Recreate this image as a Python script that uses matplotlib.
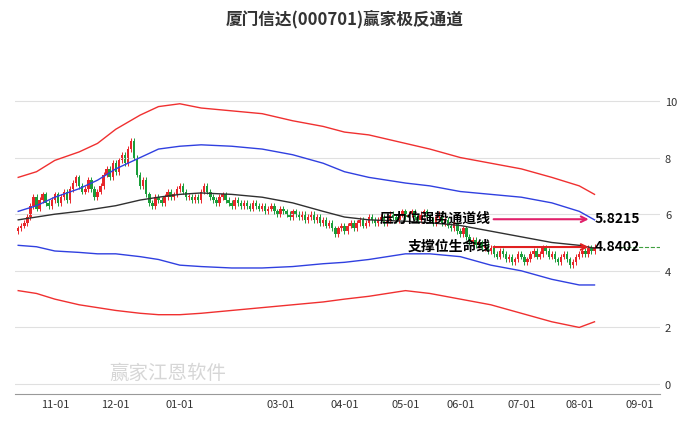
import matplotlib
matplotlib.use('Agg')
import matplotlib.pyplot as plt
import numpy as np
plt.rcParams['font.family'] = ['Noto Sans CJK SC', 'DejaVu Sans']

closes = [5.5,5.6,5.7,5.9,6.3,6.6,6.2,6.5,6.7,6.4,
 6.3,6.5,6.7,6.4,6.6,6.8,6.5,6.9,7.1,7.3,
 7.0,6.8,6.9,7.2,6.9,6.6,6.8,7.0,7.4,7.6,
 7.3,7.8,7.5,7.9,8.1,7.8,8.3,8.6,8.0,7.4,
 7.0,7.2,6.7,6.4,6.3,6.6,6.5,6.4,6.6,6.8,
 6.6,6.7,6.9,7.0,6.8,6.6,6.6,6.5,6.6,6.5,
 6.8,7.0,6.8,6.6,6.5,6.4,6.6,6.7,6.5,6.4,
 6.3,6.5,6.4,6.3,6.4,6.3,6.2,6.4,6.3,6.2,
 6.3,6.1,6.2,6.3,6.1,6.0,6.2,6.1,6.0,5.9,
 6.1,6.0,5.9,6.0,5.8,5.9,6.0,5.8,5.9,5.7,
 5.8,5.6,5.7,5.5,5.3,5.5,5.6,5.4,5.6,5.7,
 5.5,5.7,5.8,5.6,5.7,5.9,5.8,5.7,5.8,5.9,
 5.7,5.8,6.0,5.9,5.8,6.0,6.1,5.9,6.0,6.1,
 5.9,5.8,6.0,6.1,5.9,5.8,5.7,5.9,6.0,5.7,
 5.8,5.6,5.5,5.7,5.4,5.3,5.5,5.2,5.0,5.1,
 4.9,5.0,4.8,4.9,4.7,4.8,4.6,4.5,4.7,4.6,
 4.4,4.5,4.3,4.4,4.6,4.5,4.3,4.4,4.6,4.7,
 4.5,4.6,4.8,4.7,4.5,4.6,4.4,4.3,4.5,4.6,
 4.4,4.2,4.3,4.5,4.6,4.7,4.6,4.8,4.7,4.84]
open0 = 5.4

band_idx = [0,6,12,20,26,32,40,46,53,60,70,80,90,100,107,115,127,135,145,155,165,175,184,189]
red_up  = [7.3,7.5,7.9,8.2,8.5,9.0,9.5,9.8,9.9,9.75,9.65,9.55,9.3,9.1,8.9,8.8,8.5,8.3,8.0,7.8,7.6,7.3,7.0,6.7]
red_lo  = [3.3,3.2,3.0,2.8,2.7,2.6,2.5,2.45,2.45,2.5,2.6,2.7,2.8,2.9,3.0,3.1,3.3,3.2,3.0,2.8,2.5,2.2,2.0,2.2]
blue_up = [6.1,6.3,6.6,6.9,7.2,7.6,8.0,8.3,8.4,8.45,8.4,8.3,8.1,7.8,7.5,7.3,7.1,7.0,6.8,6.7,6.6,6.4,6.1,5.8]
blue_lo = [4.9,4.85,4.7,4.65,4.6,4.6,4.5,4.4,4.2,4.15,4.1,4.1,4.15,4.25,4.3,4.4,4.6,4.6,4.5,4.2,4.0,3.7,3.5,3.5]
mid     = [5.8,5.9,6.0,6.1,6.2,6.3,6.5,6.6,6.7,6.75,6.7,6.6,6.4,6.1,5.9,5.8,5.75,5.7,5.6,5.4,5.2,5.0,4.9,4.8]

tick_pos = [12, 32, 53, 86, 107, 127, 145, 165, 184, 204]
tick_lab = ['11-01','12-01','01-01','03-01','04-01','05-01','06-01','07-01','08-01','09-01']
resist, support = 5.8215, 4.8402

fig = plt.figure(figsize=(6.89, 4.27), dpi=100)
ax = fig.add_axes([0.022, 0.075, 0.936, 0.738])
opens = [open0] + closes[:-1]
for i, (o, c) in enumerate(zip(opens, closes)):
    col = '#e8262a' if c >= o else '#1a9e3a'
    ax.vlines(i, min(o, c) - 0.1, max(o, c) + 0.1, color=col, lw=0.7)
    ax.bar(i, max(abs(c - o), 0.03), bottom=min(o, c), width=0.8, color=col)
ax.plot(band_idx, red_up, color='#f03030', lw=1)
ax.plot(band_idx, red_lo, color='#f03030', lw=1)
ax.plot(band_idx, blue_up, color='#3040e0', lw=1)
ax.plot(band_idx, blue_lo, color='#3040e0', lw=1)
ax.plot(band_idx, mid, color='#303030', lw=1)
ax.axhline(support, xmin=0.93, color='#40a040', lw=0.8, ls='--')
ax.annotate('', xy=(188, resist), xytext=(155, resist),
            arrowprops=dict(arrowstyle='->', color='#e0206a', lw=1.5))
ax.annotate('', xy=(188, support), xytext=(155, support),
            arrowprops=dict(arrowstyle='->', color='#e02020', lw=1.5))
ax.text(155, resist + 0.05, '压力位强势通道线', ha='right', va='center', fontsize=10, fontweight='bold')
ax.text(155, support + 0.05, '支撑位生命线', ha='right', va='center', fontsize=10, fontweight='bold')
ax.text(189, resist + 0.05, '5.8215', ha='left', va='center', fontsize=10, fontweight='bold')
ax.text(189, support + 0.05, '4.8402', ha='left', va='center', fontsize=10, fontweight='bold')
ax.text(30, 0.2, '赢家江恩软件', fontsize=14, color='#cccccc', alpha=0.8)
ax.set_xlim(-1, 210.5)
ax.set_ylim(-0.35, 10.78)
ax.set_yticks([0, 2, 4, 6, 8, 10])
ax.yaxis.tick_right()
ax.set_xticks(tick_pos)
ax.set_xticklabels(tick_lab)
ax.tick_params(labelsize=8, length=0, colors='#333333')
ax.grid(axis='y', color='#e0e0e0', lw=0.8)
for s in ['top', 'right', 'left']:
    ax.spines[s].set_visible(False)
ax.spines['bottom'].set_color('#999999')
fig.text(0.5, 0.955, '厦门信达(000701)赢家极反通道', ha='center', va='center', fontsize=12, fontweight='bold', color='#333333')
fig.savefig('out.png')
